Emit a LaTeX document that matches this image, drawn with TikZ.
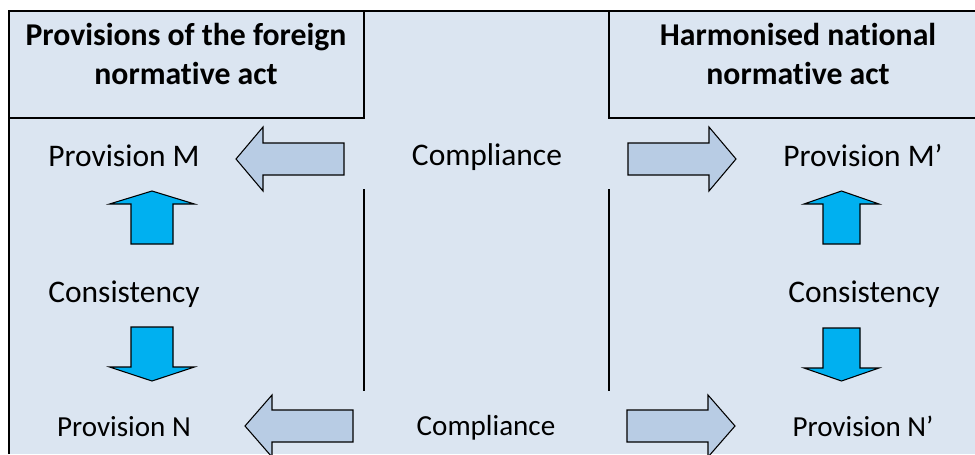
\documentclass[tikz,border=0pt]{standalone}
\usepackage{fontspec}
\setmainfont{Carlito}[Ligatures=NoCommon]
\usepackage{tikz}
\usetikzlibrary{calc}
\definecolor{paleblue}{HTML}{DBE5F1}
\definecolor{steelfill}{HTML}{B8CCE4}
\definecolor{cyanfill}{HTML}{00B0F0}
\def\blockarrow[#1](#2)(#3:#4:#5:#6:#7){\draw[#1,shift={(#2)},rotate=#3] (0,-#6) -- (#4,-#6) -- (#4,-#7) -- (#5,0) -- (#4,#7) -- (#4,#6) -- (0,#6) -- cycle;}

\begin{document}
\begin{tikzpicture}[x=0.75pt, y=-0.75pt]
		%%%%% START %%%%%
		\useasboundingbox (0,0) rectangle (975,454);
		
		\fill[paleblue] (9,11) rectangle (975,454);
		\draw[line width=1.5pt] (9,454) -- (9,11) -- (975,11);
		
		\draw[line width=1.5pt] (9,118) -- (364,118) -- (364,11);
		\draw[line width=1.5pt] (975,118) -- (609,118) -- (609,11);
		\draw[line width=1.5pt] (364,189) -- (364,391);
		\draw[line width=1.5pt] (609,189) -- (609,391);
		
		\node[align=center, inner sep=0, font=\bfseries\fontsize{23.8}{29.5}\selectfont] (titleL) at (186,54) {Provisions of the foreign\\normative act};
		\node[align=center, inner sep=0, font=\bfseries\fontsize{23.8}{29.5}\selectfont] (titleR) at (798,54) {Harmonised national\\normative act};
		
		\node[anchor=base, inner sep=0, font=\fontsize{23.6}{28}\selectfont] (provM) at (124,166) {Provision M};
		\node[anchor=base, inner sep=0, font=\fontsize{23.6}{28}\selectfont] (complTop) at (487,165) {Compliance};
		\node[anchor=base, inner sep=0, font=\fontsize{23.6}{28}\selectfont] (provMp) at (863,166) {Provision M’};
		
		\node[anchor=base, inner sep=0, font=\fontsize{23.6}{28}\selectfont] (consL) at (124,302) {Consistency};
		\node[anchor=base, inner sep=0, font=\fontsize{23.6}{28}\selectfont] (consR) at (864,302) {Consistency};
		
		\node[anchor=base, inner sep=0, font=\fontsize{21.8}{26}\selectfont] (provN) at (124,436) {Provision N};
		\node[anchor=base, inner sep=0, font=\fontsize{21.8}{26}\selectfont] (complBot) at (486,435) {Compliance};
		\node[anchor=base, inner sep=0, font=\fontsize{21.8}{26}\selectfont] (provNp) at (863,436) {Provision N’};
		
		\blockarrow[fill=steelfill, line width=0.8pt](344,159)(180:81:108:16:32);
		\blockarrow[fill=steelfill, line width=0.8pt](628,159)(0:81:108:16:32);
		\blockarrow[fill=steelfill, line width=0.8pt](353,426)(180:81:108:16:31);
		\blockarrow[fill=steelfill, line width=0.8pt](627,426)(0:81:108:16:31);
		
		\blockarrow[fill=cyanfill, line width=0.8pt](152,244)(90:40:53:21:42.5);
		\blockarrow[fill=cyanfill, line width=0.8pt](152,327)(-90:40:54:21:42.5);
		\blockarrow[fill=cyanfill, line width=0.8pt](841.5,244)(90:40:53:18.5:37.5);
		\blockarrow[fill=cyanfill, line width=0.8pt](841.5,328)(-90:40:53:18.5:37.5);
		%%%%% END %%%%%
\end{tikzpicture}
\end{document}
